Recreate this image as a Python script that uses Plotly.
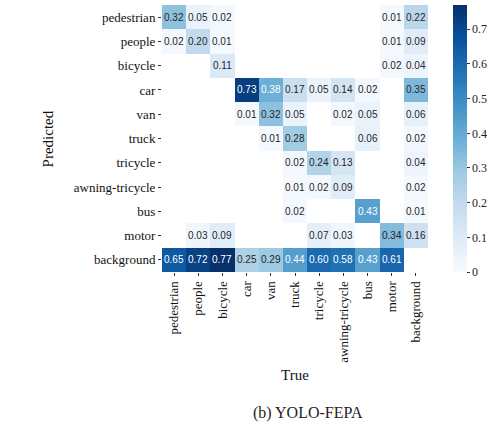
import plotly.graph_objects as go
import plotly.express as px

true_labels = ["pedestrian", "people", "bicycle", "car", "van", "truck", "tricycle",
               "awning-tricycle", "bus", "motor", "background"]
pred_labels = ["pedestrian", "people", "bicycle", "car", "van", "truck", "tricycle",
               "awning-tricycle", "bus", "motor", "background"]

N = None
row_pedestrian = [0.32, 0.05, 0.02, N, N, N, N, N, N, 0.01, 0.22]
row_people     = [0.02, 0.20, 0.01, N, N, N, N, N, N, 0.01, 0.09]
row_bicycle    = [N, N, 0.11, N, N, N, N, N, N, 0.02, 0.04]
row_car        = [N, N, N, 0.73, 0.38, 0.17, 0.05, 0.14, 0.02, N, 0.35]
row_van        = [N, N, N, 0.01, 0.32, 0.05, N, 0.02, 0.05, N, 0.06]
row_truck      = [N, N, N, N, 0.01, 0.28, N, N, 0.06, N, 0.02]
row_tricycle   = [N, N, N, N, N, 0.02, 0.24, 0.13, N, N, 0.04]
row_awning     = [N, N, N, N, N, 0.01, 0.02, 0.09, N, N, 0.02]
row_bus        = [N, N, N, N, N, 0.02, N, N, 0.43, N, 0.01]
row_motor      = [N, 0.03, 0.09, N, N, N, 0.07, 0.03, N, 0.34, 0.16]
row_background = [0.65, 0.72, 0.77, 0.25, 0.29, 0.44, 0.60, 0.58, 0.43, 0.61, N]

z = [row_pedestrian, row_people, row_bicycle, row_car, row_van, row_truck,
     row_tricycle, row_awning, row_bus, row_motor, row_background]

colorbar_ticks = [0, 0.1, 0.2, 0.3, 0.4, 0.5, 0.6, 0.7]

serif = "Liberation Serif, Times New Roman, serif"

fig = go.Figure(go.Heatmap(
    z=z, x=true_labels, y=pred_labels,
    colorscale=px.colors.sequential.Blues, zmin=0, zmax=0.77,
    hoverongaps=False, xgap=0, ygap=0,
    colorbar=dict(thickness=14, len=1.0, lenmode="fraction", y=0.5, yanchor="middle",
                  x=1.057, xanchor="left", outlinewidth=0, xpad=10, ypad=0,
                  tickvals=colorbar_ticks, ticktext=[f"{t:g}" for t in colorbar_ticks],
                  ticks="outside", ticklen=3, tickcolor="#333",
                  tickfont=dict(family=serif, size=12, color="#222")),
))

annotations = []
for i, row in enumerate(z):
    for j, v in enumerate(row):
        if v is None:
            continue
        annotations.append(dict(
            x=true_labels[j], y=pred_labels[i], xref="x", yref="y",
            text=f"{v:.2f}", showarrow=False,
            font=dict(family="Liberation Sans, Arial, sans-serif", size=10,
                      color="white" if v >= 0.37 else "#262626")))

annotations.append(dict(text="True", x=0.5, y=-0.386, xref="paper", yref="paper",
                        showarrow=False, xanchor="center", yanchor="middle",
                        font=dict(family=serif, size=15, color="#111")))
annotations.append(dict(text="Predicted", x=-0.429, y=0.5, xref="paper", yref="paper",
                        showarrow=False, textangle=-90, xanchor="center", yanchor="middle",
                        font=dict(family=serif, size=15, color="#111")))
annotations.append(dict(text="(b) YOLO-FEPA", x=0.549, y=-0.528, xref="paper", yref="paper",
                        showarrow=False, xanchor="center", yanchor="middle",
                        font=dict(family=serif, size=16, color="#222")))

fig.update_layout(
    width=496, height=427,
    margin=dict(l=162, r=68, t=5, b=155, autoexpand=False),
    paper_bgcolor="white", plot_bgcolor="white",
    annotations=annotations,
    xaxis=dict(tickangle=-90, ticks="outside", ticklen=3, tickcolor="#333",
               showgrid=False, zeroline=False, showline=False, automargin=False,
               tickfont=dict(family=serif, size=13, color="#111")),
    yaxis=dict(autorange="reversed", ticks="outside", ticklen=3, tickcolor="#333",
               showgrid=False, zeroline=False, showline=False, automargin=False,
               tickfont=dict(family=serif, size=13, color="#111")),
)

fig.write_html("out.html")
